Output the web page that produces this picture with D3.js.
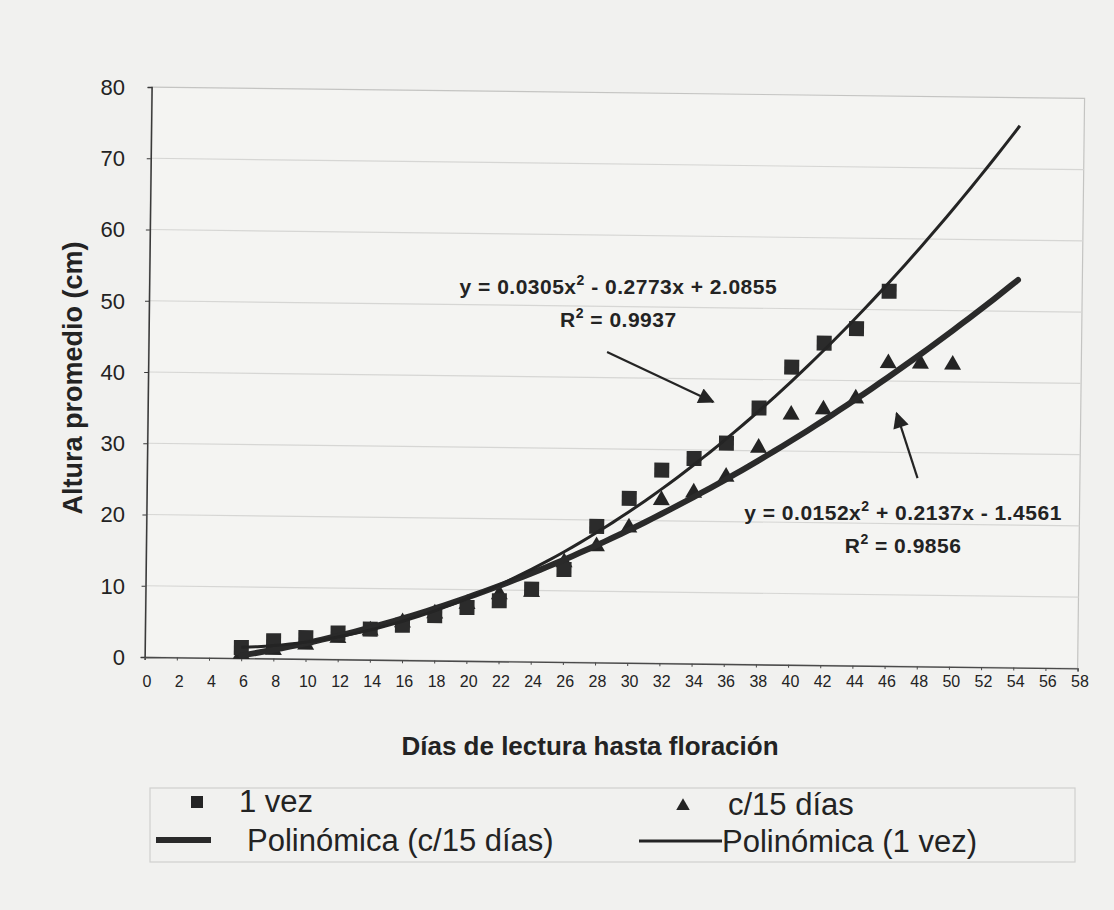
<!DOCTYPE html>
<html>
<head>
<meta charset="utf-8">
<script src="https://cdn.jsdelivr.net/npm/d3@7/dist/d3.min.js"></script>
<style>
  body { margin: 0; background: #f1f1ef; }
  svg text { font-family: "Liberation Sans", Arial, sans-serif; fill: #232323; }
</style>
</head>
<body>
<div id="chart"></div>
<script>
// values
var daysOnce = [6, 8, 10, 12, 14, 16, 18, 20, 22, 24, 26, 28, 30, 32, 34, 36, 38, 40, 42, 44, 46];
var heightOnce = [1.5, 2.5, 3.0, 3.7, 4.3, 4.9, 6.3, 7.5, 8.5, 10.2, 13.0, 19.1, 23.1, 27.1, 28.8, 31.0, 36.0, 41.8, 45.2, 47.3, 52.6];

var daysEvery15 = [6, 8, 10, 12, 14, 16, 18, 20, 22, 24, 26, 28, 30, 32, 34, 36, 38, 40, 42, 44, 46, 48, 50];
var heightEvery15 = [0.6, 1.2, 2.0, 3.0, 4.1, 5.3, 6.6, 8.0, 9.4, 9.8, 14.0, 16.3, 19.0, 22.9, 24.0, 26.3, 30.4, 35.1, 35.9, 37.5, 42.5, 42.5, 42.4];

// polynomial trendlines as printed on the chart: a x^2 + b x + c
var trendOnce = [0.0305, -0.2773, 2.0855];
var trendEvery15 = [0.0152, 0.2137, -1.4561];
var r2Once = 0.9937;
var r2Every15 = 0.9856;
var trendDays = [6, 54];

var xTicks = [0, 2, 4, 6, 8, 10, 12, 14, 16, 18, 20, 22, 24, 26, 28, 30, 32, 34, 36, 38, 40, 42, 44, 46, 48, 50, 52, 54, 56, 58];
var yTicks = [0, 10, 20, 30, 40, 50, 60, 70, 80];

var legendLabels = ["1 vez", "c/15 días", "Polinómica (c/15 días)", "Polinómica (1 vez)"];

var margin = {top: 87, right: 34, bottom: 253, left: 147},
    width = 1114 - margin.left - margin.right,
    height = 910 - margin.top - margin.bottom;

var ink = "#242424";

var svg = d3.select("#chart")
  .append("svg")
    .attr("width", 1114)
    .attr("height", 910);

svg.append("rect")
  .attr("width", 1114).attr("height", 910)
  .attr("fill", "#f1f1ef");

var x = d3.scaleLinear().domain([0, 58]).range([0, width]);
var y = d3.scaleLinear().domain([0, 80]).range([height, 0]);

var defs = svg.append("defs");
defs.append("marker")
  .attr("id", "head")
  .attr("markerUnits", "userSpaceOnUse")
  .attr("viewBox", "0 0 10 10")
  .attr("refX", 9).attr("refY", 5)
  .attr("markerWidth", 20).attr("markerHeight", 16)
  .attr("orient", "auto")
  .append("path")
    .attr("d", "M0,0 L10,5 L0,10 z")
    .attr("fill", ink);

// the scan is slightly tilted, so the plot body is turned a little
var plot = svg.append("g")
  .attr("transform", "translate(" + margin.left + "," + margin.top + ") rotate(0.7, 0, 380)");

plot.append("rect")
  .attr("width", width).attr("height", height)
  .attr("fill", "#f4f4f2")
  .attr("stroke", "#c4c4c2")
  .attr("stroke-width", 1.2);

plot.append("g")
  .selectAll("line")
  .data(yTicks.slice(1, -1))
  .enter().append("line")
    .attr("x1", 0).attr("x2", width)
    .attr("y1", function(d) { return y(d); })
    .attr("y2", function(d) { return y(d); })
    .style("stroke", "#d6d6d4")
    .style("stroke-width", 1.2);

var yAxis = plot.append("g")
  .call(d3.axisLeft(y).tickValues(yTicks).tickSize(4).tickFormat(""));
yAxis.select(".domain").style("stroke", "#3a3a3a").style("stroke-width", 1.5);
yAxis.selectAll(".tick line").style("stroke", "#3a3a3a");

var xAxis = plot.append("g")
  .attr("transform", "translate(0," + height + ")")
  .call(d3.axisBottom(x).tickValues(xTicks).tickSize(3).tickFormat(""));
xAxis.select(".domain").style("stroke", "#4a4a4a").style("stroke-width", 1.4);
xAxis.selectAll(".tick line").style("stroke", "#4a4a4a");

function poly(c) {
  return function(d) { return c[0] * d * d + c[1] * d + c[2]; };
}

function trendPoints(c) {
  var f = poly(c);
  return d3.range(trendDays[0], trendDays[1] + 0.01, 0.5).map(function(d) { return [d, f(d)]; });
}

var line = d3.line()
  .x(function(d) { return x(d[0]); })
  .y(function(d) { return y(d[1]); });

// markers first, trendlines over them like in Excel
plot.append("g")
  .selectAll("path")
  .data(daysEvery15)
  .enter().append("path")
    .attr("transform", function(d, i) { return "translate(" + x(d) + "," + y(heightEvery15[i]) + ")"; })
    .attr("d", d3.symbol().type(d3.symbolTriangle).size(125))
    .attr("fill", ink);

plot.append("g")
  .selectAll("rect")
  .data(daysOnce)
  .enter().append("rect")
    .attr("x", function(d) { return x(d) - 7.5; })
    .attr("y", function(d, i) { return y(heightOnce[i]) - 7.5; })
    .attr("width", 15).attr("height", 15)
    .attr("fill", "#2b2b2b");

plot.append("path")
  .datum(trendPoints(trendEvery15))
  .attr("d", line)
  .attr("fill", "none")
  .attr("stroke", "#2a2a2a")
  .attr("stroke-width", 6)
  .attr("stroke-linecap", "round");

plot.append("path")
  .datum(trendPoints(trendOnce))
  .attr("d", line)
  .attr("fill", "none")
  .attr("stroke", ink)
  .attr("stroke-width", 3);

// tick labels
svg.append("g")
  .selectAll("text")
  .data(yTicks)
  .enter().append("text")
    .attr("x", 125)
    .attr("y", function(d) { return margin.top + y(d); })
    .attr("dy", "0.36em")
    .attr("text-anchor", "end")
    .style("font-size", "22px")
    .text(function(d) { return d; });

svg.append("g")
  .selectAll("text")
  .data(xTicks)
  .enter().append("text")
    .attr("x", function(d) { return margin.left + x(d); })
    .attr("y", 687)
    .attr("text-anchor", "middle")
    .style("font-size", "16px")
    .text(function(d) { return d; });

svg.append("text")
  .attr("x", 590).attr("y", 755)
  .attr("text-anchor", "middle")
  .style("font-size", "26px").style("font-weight", "bold")
  .text("Días de lectura hasta floración");

svg.append("text")
  .attr("transform", "translate(82,378) rotate(-90)")
  .attr("text-anchor", "middle")
  .style("font-size", "27px").style("font-weight", "bold")
  .text("Altura promedio (cm)");

// equations and arrows
function fmt(v) { return Math.abs(v).toFixed(4); }

function equation(c, r2, cx, cy) {
  var g = svg.append("g")
    .style("font-size", "21px").style("font-weight", "bold").style("letter-spacing", "0.5px");
  var px = margin.left + x(cx), py = margin.top + y(cy);
  var t = g.append("text").attr("x", px).attr("y", py).attr("text-anchor", "middle");
  t.append("tspan").text("y = " + fmt(c[0]) + "x");
  t.append("tspan").attr("dy", -9).style("font-size", "14px").text("2");
  t.append("tspan").attr("dy", 9)
    .text((c[1] < 0 ? " - " : " + ") + fmt(c[1]) + "x" + (c[2] < 0 ? " - " : " + ") + fmt(c[2]));
  var r = g.append("text").attr("x", px).attr("y", py + 33).attr("text-anchor", "middle");
  r.append("tspan").text("R");
  r.append("tspan").attr("dy", -9).style("font-size", "14px").text("2");
  r.append("tspan").attr("dy", 9).text(" = " + r2.toFixed(4));
}

equation(trendOnce, r2Once, 29.3, 51.0);
equation(trendEvery15, r2Every15, 47.0, 19.2);

function arrow(x0, y0, x1, y1) {
  svg.append("line")
    .attr("x1", margin.left + x(x0)).attr("y1", margin.top + y(y0))
    .attr("x2", margin.left + x(x1)).attr("y2", margin.top + y(y1))
    .attr("stroke", ink)
    .attr("stroke-width", 2.2)
    .attr("marker-end", "url(#head)");
}

arrow(28.6, 42.8, 35.2, 35.8);
arrow(47.9, 25.1, 46.6, 34.2);

// legend
var legend = svg.append("g").style("font-size", "31px");

legend.append("rect")
  .attr("x", 150).attr("y", 788)
  .attr("width", 925).attr("height", 74)
  .attr("fill", "none")
  .attr("stroke", "#d0d0ce")
  .attr("stroke-width", 1.2);

legend.append("rect")
  .attr("x", 191).attr("y", 796).attr("width", 12).attr("height", 12)
  .attr("fill", ink);
legend.append("text").attr("x", 239).attr("y", 812).text(legendLabels[0]);

legend.append("path")
  .attr("transform", "translate(683,806)")
  .attr("d", d3.symbol().type(d3.symbolTriangle).size(80))
  .attr("fill", ink);
legend.append("text").attr("x", 728).attr("y", 815).text(legendLabels[1]);

legend.append("line")
  .attr("x1", 156).attr("x2", 211).attr("y1", 840).attr("y2", 840)
  .attr("stroke", "#2a2a2a").attr("stroke-width", 6);
legend.append("text").attr("x", 247).attr("y", 851).text(legendLabels[2]);

legend.append("line")
  .attr("x1", 639).attr("x2", 722).attr("y1", 841).attr("y2", 841)
  .attr("stroke", ink).attr("stroke-width", 3);
legend.append("text").attr("x", 722).attr("y", 852).text(legendLabels[3]);
</script>
</body>
</html>
